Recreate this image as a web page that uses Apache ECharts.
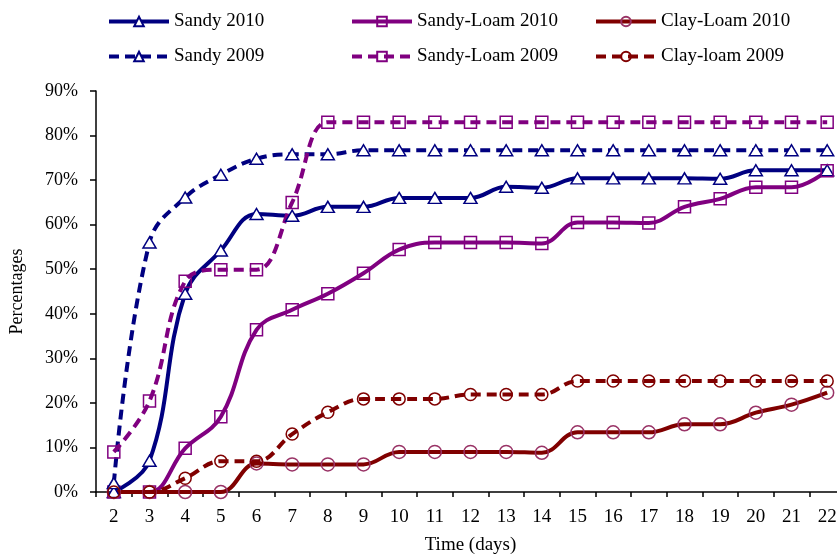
<!DOCTYPE html>
<html>
<head>
<meta charset="utf-8">
<script src="https://cdn.jsdelivr.net/npm/echarts@6/dist/echarts.min.js"></script>
<style>
  html, body { margin: 0; padding: 0; background: #fff; }
  #chart { width: 837px; height: 556px; }
</style>
</head>
<body>
<div id="chart"></div>
<script>
// days on the x axis
const days = ['2', '3', '4', '5', '6', '7', '8', '9', '10', '11', '12',
  '13', '14', '15', '16', '17', '18', '19', '20', '21', '22']

// percentages
const sandy2010 = [0, 7, 44.5, 54.2, 62.4, 62, 64, 64, 66, 66, 66, 68.5, 68.3, 70.4, 70.4, 70.4, 70.4, 70.3, 72.2, 72.2, 72.2]
const sandy2009 = [2, 56, 66.1, 71.2, 74.8, 75.8, 75.8, 76.7, 76.7, 76.7, 76.7, 76.7, 76.7, 76.7, 76.7, 76.7, 76.7, 76.7, 76.7, 76.7, 76.7]
const sandyLoam2010 = [0, 0, 9.8, 16.9, 36.4, 40.9, 44.5, 49.1, 54.4, 56, 56, 56, 55.8, 60.5, 60.5, 60.4, 64, 65.8, 68.4, 68.4, 72.1]
const sandyLoam2009 = [9, 20.4, 47.3, 49.9, 49.9, 65, 83, 83, 83, 83, 83, 83, 83, 83, 83, 83, 83, 83, 83, 83, 83]
const clayLoam2010 = [0, 0, 0, 0, 6.4, 6.2, 6.2, 6.2, 9, 9, 9, 9, 8.8, 13.4, 13.4, 13.4, 15.2, 15.2, 17.8, 19.6, 22.3]
const clayLoam2009 = [0, 0, 3.1, 6.9, 6.9, 13, 17.9, 20.9, 20.9, 20.9, 21.9, 21.9, 21.9, 24.9, 24.9, 24.9, 24.9, 24.9, 24.9, 24.9, 24.9]

const yTicks = [0, 10, 20, 30, 40, 50, 60, 70, 80, 90]

const NAVY = '#000080'
const PURPLE = '#800080'
const MAROON = '#800000'
const FONT = '"Liberation Serif", "Times New Roman", serif'

function makeSeries(name, data, color, dashed, symbol, size, fill, border) {
  return {
    name: name,
    type: 'line',
    data: data,
    smooth: 0.4,
    symbol: symbol,
    symbolSize: size,
    showAllSymbol: true,
    lineStyle: {
      color: color,
      width: 4,
      type: dashed ? [10, 6] : 'solid'
    },
    itemStyle: {
      color: fill,
      borderColor: border || color,
      borderWidth: 1.5
    },
    emphasis: { disabled: true }
  }
}

function legendAt(name, left, top) {
  return {
    data: [name],
    left: left,
    top: top,
    itemWidth: 60,
    itemHeight: 12,
    padding: 0,
    lineStyle: { width: 4 },
    textStyle: { fontFamily: FONT, fontSize: 19, color: '#000' }
  }
}

const chart = echarts.init(document.getElementById('chart'))

chart.setOption({
  animation: false,
  backgroundColor: '#fff',
  grid: {
    left: 96,
    right: -8,
    top: 91,
    bottom: 64,
    outerBoundsMode: 'none',
    containLabel: false
  },
  legend: [
    legendAt('Sandy 2010', 107, 12),
    legendAt('Sandy-Loam 2010', 350, 12),
    legendAt('Clay-Loam 2010', 594, 12),
    legendAt('Sandy 2009', 107, 47),
    legendAt('Sandy-Loam 2009', 350, 47),
    legendAt('Clay-loam 2009', 594, 47)
  ],
  xAxis: {
    type: 'category',
    data: days,
    boundaryGap: true,
    name: 'Time (days)',
    nameLocation: 'middle',
    nameGap: 44,
    nameTextStyle: { fontFamily: FONT, fontSize: 19, color: '#000' },
    axisLine: { lineStyle: { color: '#000', width: 1.5 } },
    axisTick: { show: true, length: 5, lineStyle: { color: '#000', width: 1.5 } },
    axisLabel: {
      interval: 0,
      margin: 16,
      fontFamily: FONT,
      fontSize: 19,
      color: '#000'
    },
    splitLine: { show: false }
  },
  yAxis: {
    type: 'value',
    min: yTicks[0],
    max: yTicks[yTicks.length - 1],
    interval: 10,
    name: 'Percentages',
    nameLocation: 'middle',
    nameGap: 70,
    nameTextStyle: { fontFamily: FONT, fontSize: 18, color: '#000' },
    axisLine: { show: true, lineStyle: { color: '#000', width: 1.5 } },
    axisTick: { show: true, length: 6, lineStyle: { color: '#000', width: 1.5 } },
    axisLabel: {
      margin: 18,
      fontFamily: FONT,
      fontSize: 18,
      color: '#000',
      formatter: '{value}%'
    },
    splitLine: { show: false }
  },
  series: [
    makeSeries('Sandy 2010', sandy2010, NAVY, false, 'triangle', [13, 11], '#fff'),
    makeSeries('Sandy-Loam 2010', sandyLoam2010, PURPLE, false, 'rect', 12, 'rgba(255,255,255,0)'),
    makeSeries('Clay-Loam 2010', clayLoam2010, MAROON, false, 'circle', 13, 'rgba(255,255,255,0)', '#993366'),
    makeSeries('Sandy 2009', sandy2009, NAVY, true, 'triangle', [13, 11], '#fff'),
    makeSeries('Sandy-Loam 2009', sandyLoam2009, PURPLE, true, 'rect', 12, 'rgba(255,255,255,0)'),
    makeSeries('Clay-loam 2009', clayLoam2009, MAROON, true, 'circle', 12, 'rgba(255,255,255,0)')
  ]
})
</script>
</body>
</html>
